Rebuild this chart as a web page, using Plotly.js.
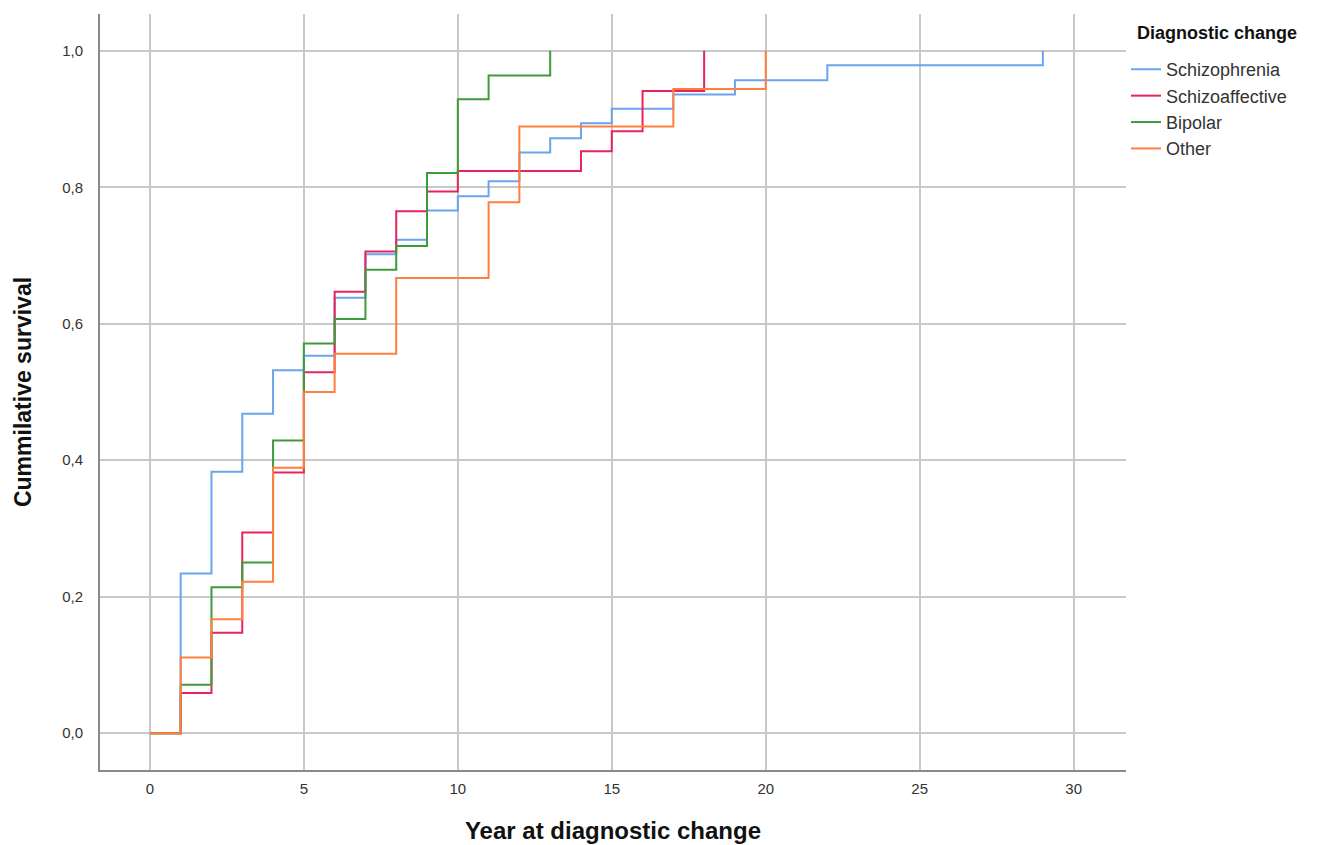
<!DOCTYPE html>
<html>
<head>
<meta charset="utf-8">
<script src="https://cdn.plot.ly/plotly-3.0.1.min.js"></script>
<style>html,body{margin:0;padding:0;background:#fff;}#chart{width:1324px;height:845px;}</style>
</head>
<body>
<div id="chart"></div>
<script>
// Series names
const seriesNames = ["Schizophrenia", "Schizoaffective", "Bipolar", "Other"];
// Time points (years) where each step occurs and the cumulative value from that point
const schizophreniaYears = [0,1,2,3,4,5,6,7,8,9,10,11,12,13,14,15,17,19,22,29];
const schizophreniaValues = [0,0.234,0.383,0.468,0.532,0.553,0.638,0.702,0.723,0.766,0.787,0.809,0.851,0.872,0.894,0.915,0.936,0.957,0.979,1.0];
const schizoaffectiveYears = [0,1,2,3,4,5,6,7,8,9,10,14,15,16,18];
const schizoaffectiveValues = [0,0.059,0.147,0.294,0.382,0.529,0.647,0.706,0.765,0.794,0.824,0.853,0.882,0.941,1.0];
const bipolarYears = [0,1,2,3,4,5,6,7,8,9,10,11,13];
const bipolarValues = [0,0.071,0.214,0.25,0.429,0.571,0.607,0.679,0.714,0.821,0.929,0.964,1.0];
const otherYears = [0,1,2,3,4,5,6,8,11,12,17,20];
const otherValues = [0,0.111,0.167,0.222,0.389,0.5,0.556,0.667,0.778,0.889,0.944,1.0];
const xTicks = [0,5,10,15,20,25,30];
const yTicks = [0,0.2,0.4,0.6,0.8,1.0];
const legendTitle = "Diagnostic change";

const colors = ["#6AA3EE", "#E8245A", "#3E9B3A", "#FF7F3F"];
const xs = [schizophreniaYears, schizoaffectiveYears, bipolarYears, otherYears];
const ys = [schizophreniaValues, schizoaffectiveValues, bipolarValues, otherValues];

const traces = seriesNames.map((n, i) => ({
  type: "scatter", mode: "lines", name: n,
  x: xs[i], y: ys[i],
  line: {shape: "hv", color: colors[i], width: 2}
}));

const font = "Liberation Sans, Arial, sans-serif";
const layout = {
  width: 1324, height: 845,
  margin: {l: 100, r: 198, t: 14, b: 75},
  paper_bgcolor: "#fff", plot_bgcolor: "#fff",
  separators: ",.",
  showlegend: true,
  font: {family: font, color: "#333"},
  xaxis: {
    range: [-1.62, 31.7], tickvals: xTicks, ticktext: xTicks.map(String),
    showgrid: true, gridcolor: "#c8c8c8", gridwidth: 2,
    zeroline: false, showline: true, linecolor: "#8a8a8a", linewidth: 2,
    ticks: "", ticklabelstandoff: 4,
    tickfont: {size: 15, color: "#333", family: font},
    title: {text: "Year at diagnostic change", font: {size: 24, color: "#111", family: font, weight: "bold"}, standoff: 26}
  },
  yaxis: {
    range: [-0.054, 1.054], tickvals: yTicks, ticktext: yTicks.map(v => v.toFixed(1).replace(".", ",")),
    showgrid: true, gridcolor: "#c8c8c8", gridwidth: 2,
    zeroline: false, showline: true, linecolor: "#8a8a8a", linewidth: 2,
    ticks: "", ticklabelstandoff: 12,
    tickfont: {size: 15, color: "#333", family: font},
    title: {text: "Cummilative survival", font: {size: 23, color: "#111", family: font, weight: "bold"}, standoff: 24}
  },
  legend: {
    x: 1.0, xanchor: "left", y: 0.951, yanchor: "top",
    bgcolor: "rgba(0,0,0,0)",
    font: {size: 18, color: "#333", family: font},
    tracegroupgap: 0
  },
  annotations: [{
    text: legendTitle, xref: "paper", yref: "paper",
    x: 1.0088, y: 0.975, xanchor: "left", yanchor: "middle", showarrow: false,
    font: {size: 18, color: "#111", family: font, weight: "bold"}
  }]
};
Plotly.newPlot("chart", traces, layout, {displayModeBar: false, staticPlot: true});
</script>
</body>
</html>
